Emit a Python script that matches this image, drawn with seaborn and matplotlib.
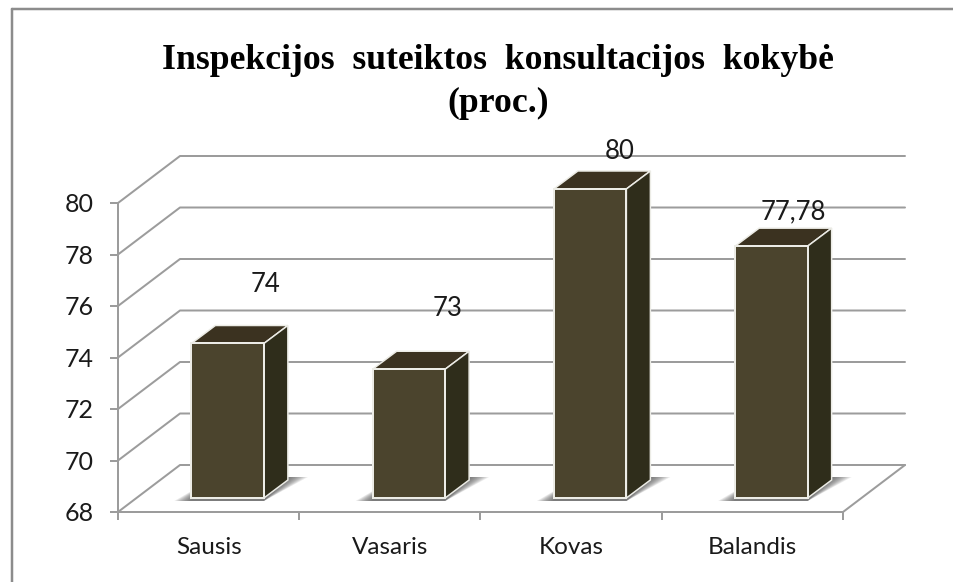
import matplotlib
matplotlib.use('Agg')
import matplotlib.pyplot as plt
from matplotlib.lines import Line2D
from matplotlib.patches import Polygon
import numpy as np
import seaborn as sns

months = ['Sausis', 'Vasaris', 'Kovas', 'Balandis']
values = [74, 73, 80, 77.78]
y_ticks = [68, 70, 72, 74, 76, 78, 80]
title = 'Inspekcijos  suteiktos  konsultacijos  kokybė\n(proc.)'

FRONT = '#4b442d'
TOP = '#3b3220'
SIDE = '#2f2d1b'
EDGE = '#ecece6'
GRID = '#9c9c9c'
px = 0.72  # one pixel in points at dpi 100

sns.set_theme(style='white')
plt.rcParams['font.family'] = ['Lato', 'DejaVu Sans']

fig = plt.figure(figsize=(9.54, 5.82), dpi=100)
ax = fig.add_axes([118 / 954, 1 - 512 / 582, (843 - 118) / 954, (512 - 203) / 582])
sns.barplot(x=months, y=values, color=FRONT, saturation=1, width=0.4,
            edgecolor=EDGE, linewidth=2 * px, ax=ax, zorder=4)
ax.set_xlim(-0.5, 3.5)
ax.set_ylim(68, 80)

# pixel sizes turned into data units
ux = 4 / 725
uy = 12 / 309
wall_x, wall_y = 62 * ux, 47 * uy
depth_x, depth_y = 24 * ux, 18 * uy
gap_x, gap_y = 19 * ux, 14 * uy

# back wall, floor edge and the diagonal lines
for t in y_ticks:
    ax.plot([-0.5, -0.5 + wall_x, 3.5 + wall_x], [t, t + wall_y, t + wall_y],
            color=GRID, lw=2 * px, clip_on=False, zorder=1)
ax.plot([3.5, 3.5 + wall_x], [68, 68 + wall_y], color=GRID, lw=2 * px, clip_on=False, zorder=1)

# bars sit inside the floor, faces are built from the seaborn patches
for bar, v in zip(ax.patches, values):
    bar.set_x(bar.get_x() + gap_x)
    bar.set_y(68 + gap_y)
    bar.set_height(v - 68)
    bar.set_clip_on(False)
    x0, x1 = bar.get_x(), bar.get_x() + bar.get_width()
    y0, y1 = bar.get_y(), bar.get_y() + bar.get_height()

    # soft shadow on the floor
    for grow in np.linspace(1, 0.1, 10):
        ax.add_patch(Polygon([(x0 - grow * 17 * ux, y0 - 3 * uy),
                              (x1, y0 - 3 * uy),
                              (x1 + depth_x + grow * 20 * ux, y0 + depth_y + 3 * uy),
                              (x0 + depth_x, y0 + depth_y + 3 * uy)],
                             closed=True, fc='#444444', ec='none', alpha=0.11,
                             clip_on=False, zorder=2))

    ax.add_patch(Polygon([(x0, y1), (x0 + depth_x, y1 + depth_y), (x1 + depth_x, y1 + depth_y), (x1, y1)],
                         closed=True, fc=TOP, ec=EDGE, lw=1.5 * px, clip_on=False, zorder=3))
    ax.add_patch(Polygon([(x1, y0), (x1 + depth_x, y0 + depth_y), (x1 + depth_x, y1 + depth_y), (x1, y1)],
                         closed=True, fc=SIDE, ec=EDGE, lw=1.5 * px, clip_on=False, zorder=3))

# data labels float off the bars by different amounts in the original
label_dx = [38, 39, 30, 22]
label_dy = [59, 61, 37, 34]
for bar, v, dx, dy in zip(ax.patches, values, label_dx, label_dy):
    ax.text(bar.get_x() + bar.get_width() / 2 + dx * ux, v + gap_y + dy * uy,
            str(v).replace('.', ','), ha='center', va='center', fontsize=18.5,
            color='#1a1a1a', clip_on=False, zorder=6)

sns.despine(ax=ax)
ax.spines['left'].set_color(GRID)
ax.spines['bottom'].set_color(GRID)
ax.spines['left'].set_linewidth(2 * px)
ax.spines['bottom'].set_linewidth(2 * px)

ax.set_yticks(y_ticks)
ax.set_xticks(np.arange(5) - 0.5, labels=[])
ax.set_xticks(np.arange(4), labels=months, minor=True)
ax.tick_params(axis='y', which='major', length=8 * px, width=2 * px, color=GRID,
               left=True, pad=12, labelsize=18, labelcolor='#1a1a1a')
ax.tick_params(axis='x', which='major', length=8 * px, width=2 * px, color=GRID, bottom=True)
ax.tick_params(axis='x', which='minor', length=0, pad=18, labelsize=17.5, labelcolor='#1a1a1a')
ax.set_xlabel('')
ax.set_ylabel('')

fig.text(498 / 954, 1 - 82 / 582, title, ha='center', va='center', family='Liberation Serif',
         fontweight='bold', fontsize=25.7, color='black', linespacing=1.42)

# chart frame is only visible on the top and left, the picture is cropped
fig.add_artist(Line2D([12 / 954, 12 / 954], [0, 1 - 9 / 582], color='#8c8c8c', lw=2.5 * px))
fig.add_artist(Line2D([12 / 954, 1], [1 - 9 / 582, 1 - 9 / 582], color='#8c8c8c', lw=2.5 * px))

fig.savefig('out.png', dpi=100)
plt.close(fig)
